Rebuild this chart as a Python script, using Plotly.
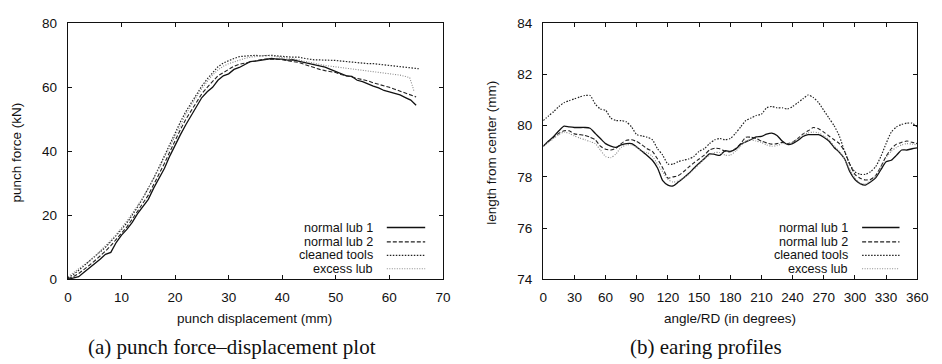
import plotly.graph_objects as go

# ---------------- data: (a) punch force vs displacement ----------------
disp = list(range(0, 66))
force_lub1 = [0.0, 0.3, 0.8, 2.2, 3.5, 5.0, 6.3, 7.8, 8.4, 11.5, 13.8, 15.6, 17.8, 20.5, 22.8, 25.0,
              28.5, 31.8, 34.6, 38.5, 42.0, 45.2, 48.3, 51.2, 54.0, 56.8, 58.6, 60.0, 62.2, 63.6, 64.2,
              65.6, 66.2, 67.0, 68.0, 68.2, 68.4, 68.8, 69.0, 68.8, 68.8, 68.5, 68.6, 68.2, 67.8, 67.5,
              67.2, 66.6, 66.3, 65.6, 65.0, 64.2, 63.6, 63.4, 62.2, 61.8, 61.0, 60.4, 59.8, 59.0, 58.6,
              58.2, 57.6, 56.8, 56.0, 54.4]
force_lub2 = [0.2, 0.8, 1.8, 3.0, 4.4, 5.8, 7.2, 8.8, 10.5, 12.4, 14.4, 16.4, 18.8, 21.3, 23.8, 26.3,
              29.6, 32.8, 36.2, 39.8, 43.4, 46.8, 50.0, 52.8, 55.6, 58.0, 60.0, 61.8, 63.6, 64.6, 65.6,
              66.6, 67.2, 67.6, 68.0, 68.4, 68.6, 68.8, 68.9, 68.8, 68.6, 68.2, 68.0, 67.8, 67.2, 66.6,
              66.0, 65.6, 65.2, 65.0, 64.6, 64.0, 63.6, 63.4, 63.0, 62.6, 62.0, 61.4, 61.0, 60.4, 60.0,
              59.4, 58.8, 58.4, 57.6, 57.0]
disp_clean = list(range(0, 66)) + [65.5]
force_clean = [0.5, 1.5, 2.8, 4.2, 5.6, 7.0, 8.5, 10.0, 11.8, 13.6, 15.6, 17.6, 20.0, 22.6, 25.4, 28.4,
               31.6, 35.0, 38.6, 42.2, 45.8, 49.2, 52.4, 55.2, 58.0, 60.4, 62.6, 64.6, 66.4, 67.6, 68.4,
               69.0, 69.6, 69.8, 70.0, 70.0, 69.8, 70.0, 70.0, 69.8, 69.6, 69.6, 69.4, 69.4, 69.0, 68.8,
               68.6, 68.6, 68.4, 68.4, 68.4, 68.2, 68.0, 68.0, 67.8, 67.6, 67.4, 67.4, 67.2, 67.0, 67.0,
               66.8, 66.6, 66.4, 66.2, 66.0, 65.8]
disp_excess = list(range(0, 64)) + [63.8, 64.3, 64.6]
force_excess = [0.8, 2.0, 3.2, 4.5, 5.8, 7.2, 8.8, 10.4, 12.2, 14.0, 16.0, 18.2, 20.6, 23.0, 25.6, 28.4,
                31.4, 34.6, 38.0, 41.4, 44.8, 48.2, 51.4, 54.4, 57.2, 59.6, 61.8, 63.8, 65.4, 66.6, 67.4,
                68.0, 68.6, 69.0, 69.4, 69.6, 69.8, 70.0, 69.8, 69.6, 69.4, 69.0, 68.8, 68.6, 68.2, 67.8,
                67.4, 67.2, 66.8, 66.6, 66.4, 66.2, 66.0, 65.8, 65.6, 65.4, 65.2, 65.0, 64.8, 64.6, 64.4,
                64.2, 63.8, 63.4, 63.0, 60.5, 58.8]

# ---------------- data: (b) earing profiles ----------------
angle = list(range(0, 361, 5))
ear_lub1 = [79.2, 79.4, 79.58, 79.8, 79.98, 79.95, 79.93, 79.93, 79.93, 79.9, 79.7, 79.5, 79.3, 79.2,
            79.15, 79.25, 79.3, 79.3, 79.17, 79.0, 78.84, 78.65, 78.35, 77.85, 77.68, 77.65, 77.8, 77.96,
            78.13, 78.34, 78.53, 78.71, 78.9, 78.88, 78.84, 79.02, 79.0, 79.08, 79.27, 79.37, 79.46,
            79.56, 79.58, 79.67, 79.71, 79.62, 79.4, 79.27, 79.3, 79.42, 79.58, 79.65, 79.65, 79.65,
            79.55, 79.4, 79.15, 78.96, 78.71, 78.21, 77.9, 77.74, 77.68, 77.8, 77.96, 78.28, 78.59,
            78.65, 78.84, 79.05, 79.05, 79.1, 79.13]
ear_lub2 = [79.2, 79.38, 79.55, 79.7, 79.8, 79.8, 79.68, 79.65, 79.62, 79.55, 79.45, 79.2, 79.08, 79.05,
            79.12, 79.3, 79.43, 79.45, 79.38, 79.25, 79.1, 79.0, 78.7, 78.35, 77.95, 78.0, 78.05, 78.2,
            78.38, 78.55, 78.7, 78.85, 79.05, 79.12, 79.1, 79.0, 78.98, 79.1, 79.3, 79.55, 79.55, 79.5,
            79.4, 79.33, 79.28, 79.3, 79.35, 79.3, 79.35, 79.5, 79.68, 79.8, 79.93, 79.88, 79.75, 79.6,
            79.45, 79.3, 79.0, 78.5, 78.1, 77.95, 77.88, 77.9, 78.05, 78.4, 78.8, 79.1, 79.28, 79.35,
            79.4, 79.35, 79.3]
ear_clean = [80.2, 80.38, 80.55, 80.75, 80.9, 80.98, 81.05, 81.12, 81.18, 81.18, 80.85, 80.65, 80.6,
             80.3, 80.2, 80.2, 80.15, 79.95, 79.65, 79.6, 79.55, 79.45, 79.1, 78.85, 78.5, 78.5, 78.6,
             78.65, 78.7, 78.8, 79.0, 79.1, 79.3, 79.45, 79.5, 79.45, 79.5, 79.7, 79.95, 80.2, 80.3,
             80.4, 80.45, 80.7, 80.75, 80.7, 80.7, 80.65, 80.75, 80.9, 81.05, 81.2, 81.1, 80.9, 80.6,
             80.3, 80.0, 79.6, 79.0, 78.5, 78.2, 78.1, 78.1, 78.2, 78.4, 78.8, 79.3, 79.75, 79.95, 80.05,
             80.1, 80.1, 79.95]
ear_excess = [79.2, 79.35, 79.5, 79.65, 79.75, 79.7, 79.6, 79.52, 79.45, 79.38, 79.3, 79.05, 78.8, 78.75,
              78.9, 79.15, 79.25, 79.25, 79.15, 79.0, 78.95, 78.8, 78.5, 78.2, 77.9, 77.8, 77.85, 77.95,
              78.1, 78.3, 78.5, 78.7, 78.85, 78.95, 78.95, 78.85, 78.85, 79.0, 79.2, 79.4, 79.45, 79.4,
              79.35, 79.25, 79.2, 79.22, 79.3, 79.3, 79.35, 79.5, 79.65, 79.72, 79.75, 79.72, 79.6, 79.45,
              79.2, 79.0, 78.7, 78.3, 77.95, 77.75, 77.72, 77.85, 78.05, 78.4, 78.75, 79.0, 79.15, 79.25,
              79.3, 79.28, 79.25]

series_names = ["normal lub 1", "normal lub 2", "cleaned tools", "excess lub"]
x_ticks_a = [0, 10, 20, 30, 40, 50, 60, 70]
y_ticks_a = [0, 20, 40, 60, 80]
x_ticks_b = list(range(0, 361, 30))
y_ticks_b = [74, 76, 78, 80, 82, 84]

# ---------------- styling ----------------
W, H = 942, 364
styles = [
    dict(color="#111111", width=1.3, dash="solid"),
    dict(color="#222222", width=1.1, dash="4px,2px"),
    dict(color="#222222", width=1.2, dash="1.5px,1.5px"),
    dict(color="#8a8a8a", width=1.1, dash="1px,1.5px"),
]

def px(x):
    return x / W

def py(y):
    return 1 - y / H

fig = go.Figure()
data_a = [(disp, force_lub1), (disp, force_lub2), (disp_clean, force_clean), (disp_excess, force_excess)]
data_b = [ear_lub1, ear_lub2, ear_clean, ear_excess]
for (xs, ys), name, st in zip(data_a, series_names, styles):
    fig.add_trace(go.Scatter(x=xs, y=ys, mode="lines", name=name, line=st, showlegend=False,
                             xaxis="x", yaxis="y"))
for ys, name, st in zip(data_b, series_names, styles):
    fig.add_trace(go.Scatter(x=angle, y=ys, mode="lines", name=name,
                             line=dict(**st, shape="spline", smoothing=0.6), showlegend=False,
                             xaxis="x2", yaxis="y2"))

FS = 13.5
tickfont = dict(family="Liberation Sans, Arial, sans-serif", size=FS, color="#111")
axis_common = dict(showline=True, linecolor="#111", linewidth=1.4, mirror="ticks", ticks="inside",
                   ticklen=4, tickcolor="#111", tickwidth=1, showgrid=False, zeroline=False,
                   tickfont=tickfont)

ydom = [py(284), py(17)]
fig.update_layout(
    width=W, height=H, margin=dict(l=0, r=0, t=0, b=0),
    paper_bgcolor="white", plot_bgcolor="white",
    xaxis=dict(domain=[px(65), px(446)], range=[0, 70], tickvals=x_ticks_a, anchor="y",
               ticklabelstandoff=5, **axis_common),
    yaxis=dict(domain=ydom, range=[0, 80], tickvals=y_ticks_a, anchor="x",
               ticklabelstandoff=7, **axis_common),
    xaxis2=dict(domain=[px(548), px(928)], range=[0, 360], tickvals=x_ticks_b, anchor="y2",
                ticklabelstandoff=5, **axis_common),
    yaxis2=dict(domain=ydom, range=[74, 84], tickvals=y_ticks_b, anchor="x2",
                ticklabelstandoff=7, **axis_common),
)

labfont = dict(family="Liberation Sans, Arial, sans-serif", size=FS, color="#111")
legfont = dict(family="Liberation Sans, Arial, sans-serif", size=12.6, color="#111")
capfont = dict(family="Liberation Serif, Times New Roman, serif", size=21, color="#111")
ann = []
ann.append(dict(x=px(255), y=py(325), text="punch displacement (mm)", font=labfont))
ann.append(dict(x=px(13), y=py(152), text="punch force (kN)", font=labfont, textangle=-90))
ann.append(dict(x=px(738), y=py(325), text="angle/RD (in degrees)", font=labfont))
ann.append(dict(x=px(496), y=py(152), text="length from center (mm)", font=labfont, textangle=-90))
ann.append(dict(x=px(232), y=py(355), text="(a) punch force–displacement plot", font=capfont))
ann.append(dict(x=px(713), y=py(355), text="(b) earing profiles", font=capfont))

shapes = []
rows = [230, 245, 259, 273]
for text_right, line_x0, line_x1 in [(377, 389, 428), (860, 872, 910)]:
    for name, st, yrow in zip(series_names, styles, rows):
        ann.append(dict(x=px(text_right), y=py(yrow), text=name, font=legfont, xanchor="right"))
        shapes.append(dict(type="line", xref="paper", yref="paper", x0=px(line_x0), x1=px(line_x1),
                           y0=py(yrow), y1=py(yrow), line=st))

for a in ann:
    a.setdefault("xanchor", "center")
    a.update(xref="paper", yref="paper", showarrow=False, yanchor="middle")
fig.update_layout(annotations=ann, shapes=shapes)

fig.write_html("out.html")
